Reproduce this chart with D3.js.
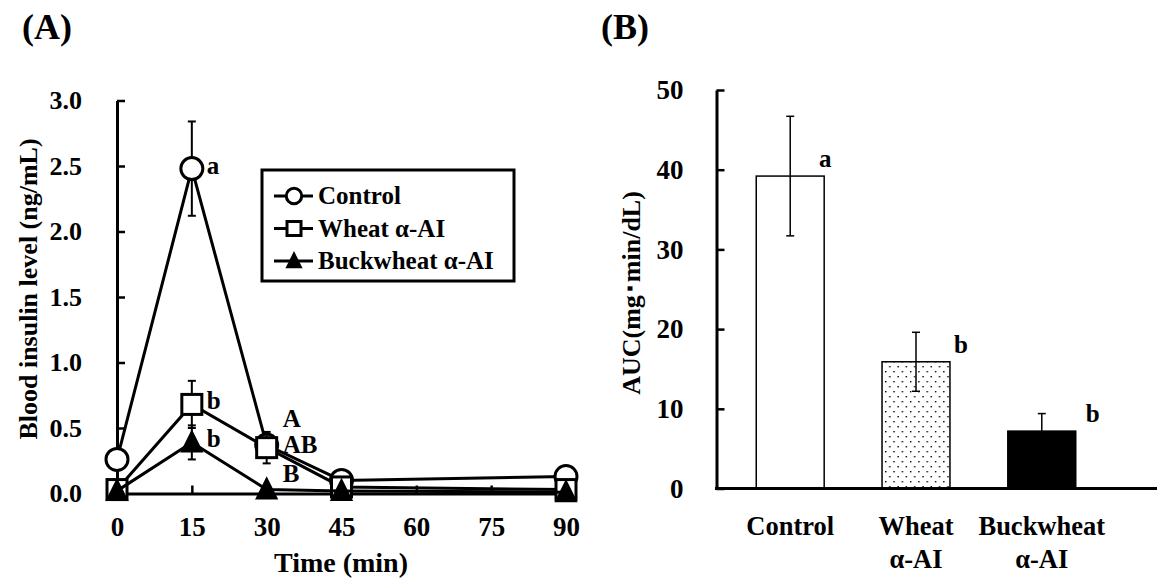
<!DOCTYPE html>
<html>
<head>
<meta charset="utf-8">
<script src="https://cdn.jsdelivr.net/npm/d3@7"></script>
<style>
  body { margin: 0; background: #ffffff; }
  svg text { font-family: "Liberation Serif", "Times New Roman", serif; font-weight: bold; fill: #000; }
</style>
</head>
<body>
<svg id="svg"></svg>
<script>
// Panel A: blood insulin over time
var times       = [0, 15, 30, 45, 90];
var control     = [0.26, 2.48, 0.37, 0.10, 0.13];
var control_err = [0.04, 0.36, 0.05, 0.02, 0.02];
var wheat       = [0.03, 0.68, 0.35, 0.05, 0.03];
var wheat_err   = [0.01, 0.18, 0.12, 0.01, 0.01];
var buck        = [0.02, 0.39, 0.03, 0.02, 0.01];
var buck_err    = [0.01, 0.13, 0.01, 0.01, 0.01];
var time_ticks  = [0, 15, 30, 45, 60, 75, 90];
var ins_ticks   = [0, 0.5, 1.0, 1.5, 2.0, 2.5, 3.0];
var series_names = ["Control", "Wheat \u03b1-AI", "Buckwheat \u03b1-AI"];
var sig15       = ["a", "b", "b"];
var sig30       = ["A", "AB", "B"];

// Panel B: AUC
var auc_cats    = ["Control", "Wheat", "Buckwheat"];
var auc_sub     = ["", "\u03b1-AI", "\u03b1-AI"];
var auc_vals    = [39.2, 15.9, 7.2];
var auc_err     = [7.5, 3.7, 2.2];
var auc_sig     = ["a", "b", "b"];
var auc_ticks   = [0, 10, 20, 30, 40, 50];

var W = 1157, H = 581;
var svg = d3.select("#svg").attr("width", W).attr("height", H);

function styleAxis(g, fs) {
  g.select(".domain").attr("stroke", "#000").attr("stroke-width", 3);
  g.selectAll(".tick line").attr("stroke", "#000").attr("stroke-width", 2.5);
  g.selectAll(".tick text").style("font-size", fs + "px").style("font-family", "'Liberation Serif', serif").style("font-weight", "bold");
}

// ---------- panel A ----------
var xa = d3.scaleLinear().domain([0, 90]).range([117, 566]);
var ya = d3.scaleLinear().domain([0, 3]).range([493.5, 100.5]);

var A = svg.append("g");

A.append("g")
  .attr("transform", "translate(0," + ya(0) + ")")
  .call(d3.axisBottom(xa).tickValues(time_ticks).tickSizeInner(-8).tickSizeOuter(0).tickPadding(23).tickFormat(d3.format("d")))
  .call(styleAxis, 27);

A.append("g")
  .attr("transform", "translate(" + xa(0) + ",0)")
  .call(d3.axisLeft(ya).tickValues(ins_ticks).tickSizeInner(-8).tickSizeOuter(0).tickPadding(35).tickFormat(d3.format(".1f")))
  .call(styleAxis, 26);

var series = [
  {vals: control, err: control_err, mark: "circle"},
  {vals: wheat,   err: wheat_err,   mark: "square"},
  {vals: buck,    err: buck_err,    mark: "triangle"}
];

var line = d3.line().x(function(d, i) { return xa(times[i]); }).y(function(d) { return ya(d); });

function drawMark(g, type, cx, cy, s) {
  if (type == "circle") {
    g.append("circle").attr("cx", cx).attr("cy", cy).attr("r", s * 0.55)
      .attr("fill", "#fff").attr("stroke", "#000").attr("stroke-width", 3);
  } else if (type == "square") {
    g.append("rect").attr("x", cx - s / 2).attr("y", cy - s / 2).attr("width", s).attr("height", s)
      .attr("fill", "#fff").attr("stroke", "#000").attr("stroke-width", 3);
  } else {
    g.append("path").attr("d", "M" + cx + "," + (cy - s * 0.55) + "L" + (cx + s / 2) + "," + (cy + s * 0.45) + "L" + (cx - s / 2) + "," + (cy + s * 0.45) + "Z")
      .attr("fill", "#000").attr("stroke", "#000").attr("stroke-width", 2);
  }
}

series.forEach(function(s) {
  var g = A.append("g");
  g.append("path").datum(s.vals).attr("d", line)
    .attr("fill", "none").attr("stroke", "#000").attr("stroke-width", 3);
  s.vals.forEach(function(v, i) {
    var cx = xa(times[i]);
    var y0 = ya(v - s.err[i]), y1 = ya(v + s.err[i]);
    g.append("line").attr("x1", cx).attr("x2", cx).attr("y1", y0).attr("y2", y1).attr("stroke", "#000").attr("stroke-width", 2);
    [y0, y1].forEach(function(yy) {
      g.append("line").attr("x1", cx - 4).attr("x2", cx + 4).attr("y1", yy).attr("y2", yy).attr("stroke", "#000").attr("stroke-width", 2);
    });
  });
  s.vals.forEach(function(v, i) {
    drawMark(g, s.mark, xa(times[i]), ya(v), 20);
  });
});

// significance letters
series.forEach(function(s, k) {
  A.append("text").attr("x", xa(15) + 15).attr("y", ya(s.vals[1]) + 5)
    .style("font-size", "25px").text(sig15[k]);
});
var off30 = [-21, 5, 34];
sig30.forEach(function(t, k) {
  A.append("text").attr("x", xa(30) + 16).attr("y", ya(wheat[2]) + off30[k])
    .style("font-size", "25px").text(t);
});

A.append("text")
  .attr("transform", "translate(37,289) rotate(-90)")
  .attr("text-anchor", "middle").style("font-size", "26px")
  .text("Blood insulin level (ng/mL)");

A.append("text").attr("x", 341).attr("y", 572).attr("text-anchor", "middle")
  .style("font-size", "28px").text("Time (min)");

// legend
var L = A.append("g");
L.append("rect").attr("x", 262).attr("y", 170).attr("width", 252).attr("height", 111)
  .attr("fill", "#fff").attr("stroke", "#000").attr("stroke-width", 3);
series.forEach(function(s, k) {
  var ly = 196 + k * 32.5;
  L.append("line").attr("x1", 274).attr("x2", 313).attr("y1", ly).attr("y2", ly).attr("stroke", "#000").attr("stroke-width", 3);
  drawMark(L, s.mark, 294, ly, 14);
  L.append("text").attr("x", 318).attr("y", ly + 8).style("font-size", "25px").text(series_names[k]);
});

svg.append("text").attr("x", 22).attr("y", 39).style("font-size", "36px").text("(A)");
svg.append("text").attr("x", 601).attr("y", 39).style("font-size", "36px").text("(B)");

// ---------- panel B ----------
var xb = d3.scaleBand().domain(auc_cats).range([716, 1116]).paddingInner(0.46).paddingOuter(0.32);
var yb = d3.scaleLinear().domain([0, 50]).range([488.5, 90]);

var B = svg.append("g");

var defs = svg.append("defs");
var pat = defs.append("pattern").attr("id", "dots").attr("patternUnits", "userSpaceOnUse")
  .attr("width", 8.3).attr("height", 10).attr("x", xb("Wheat") + 3).attr("y", 0);
pat.append("rect").attr("width", 8.3).attr("height", 10).attr("fill", "#fff");
pat.append("rect").attr("x", 0).attr("y", 1).attr("width", 1.4).attr("height", 1.4).attr("fill", "#000");
pat.append("rect").attr("x", 4.1).attr("y", 6).attr("width", 1.4).attr("height", 1.4).attr("fill", "#000");

var fills = ["#fff", "url(#dots)", "#000"];

B.selectAll(".bar").data(auc_vals).enter().append("rect")
  .attr("class", "bar")
  .attr("x", function(d, i) { return xb(auc_cats[i]); })
  .attr("y", function(d) { return yb(d); })
  .attr("width", xb.bandwidth())
  .attr("height", function(d) { return yb(0) - yb(d); })
  .attr("fill", function(d, i) { return fills[i]; })
  .attr("stroke", "#000").attr("stroke-width", 1.5);

auc_vals.forEach(function(v, i) {
  var cx = xb(auc_cats[i]) + xb.bandwidth() / 2;
  var y0 = yb(v - auc_err[i]), y1 = yb(v + auc_err[i]);
  B.append("line").attr("x1", cx).attr("x2", cx).attr("y1", y0).attr("y2", y1).attr("stroke", "#000").attr("stroke-width", 1.5);
  [y0, y1].forEach(function(yy) {
    B.append("line").attr("x1", cx - 4).attr("x2", cx + 4).attr("y1", yy).attr("y2", yy).attr("stroke", "#000").attr("stroke-width", 1.5);
  });
});
// black bar hides the lower half of its error bar
B.append("rect").attr("x", xb("Buckwheat")).attr("y", yb(auc_vals[2]))
  .attr("width", xb.bandwidth()).attr("height", yb(0) - yb(auc_vals[2])).attr("fill", "#000");

var sdx = [35, 45, 51];
auc_sig.forEach(function(t, i) {
  B.append("text").attr("x", xb(auc_cats[i]) + xb.bandwidth() / 2 + sdx[i]).attr("y", yb(auc_vals[i]) - 9)
    .attr("text-anchor", "middle").style("font-size", "25px").text(t);
});

B.append("g")
  .attr("transform", "translate(716.5,0)")
  .call(d3.axisLeft(yb).tickValues(auc_ticks).tickSizeInner(-8).tickSizeOuter(0).tickPadding(33))
  .call(styleAxis, 27);

B.append("line").attr("x1", 715).attr("x2", W).attr("y1", yb(0)).attr("y2", yb(0))
  .attr("stroke", "#000").attr("stroke-width", 3);

auc_cats.forEach(function(c, i) {
  var cx = xb(c) + xb.bandwidth() / 2;
  B.append("text").attr("x", cx).attr("y", 535).attr("text-anchor", "middle").style("font-size", "26.5px").text(c);
  if (auc_sub[i]) {
    B.append("text").attr("x", cx).attr("y", 568).attr("text-anchor", "middle").style("font-size", "26.5px").text(auc_sub[i]);
  }
});

B.append("text")
  .attr("transform", "translate(640,293) rotate(-90)")
  .attr("text-anchor", "middle").style("font-size", "26px")
  .text("AUC(mg\uff65min/dL)");
</script>
</body>
</html>
